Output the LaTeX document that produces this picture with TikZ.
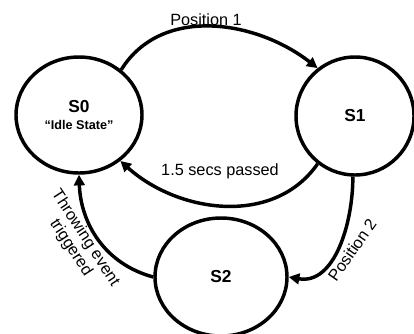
\documentclass[tikz,border=0pt]{standalone}
\usepackage{fontspec}
\setmainfont{Liberation Sans}
\usepackage{tikz}
\usetikzlibrary{arrows.meta,shapes.geometric,positioning}

\begin{document}
\begin{tikzpicture}[
        x=0.75pt, y=-0.75pt,
        state/.style={
                draw=black,
                ellipse,
                line width=2.6pt,
                inner sep=0pt,
                align=center,
                font=\bfseries\fontsize{13}{15}\selectfont
            },
        transition/.style={
                draw=black,
                line width=2.6pt,
                -{Triangle[length=8pt,width=8pt]}
            },
        translabel/.style={
                align=center,
                inner sep=1pt,
                font=\fontsize{12.2}{13}\selectfont
            }
    ]
    \useasboundingbox (0,0) rectangle (414,333);
    %states
    \node[state, minimum width=94.5pt, minimum height=87pt] (s0) at (79,115)
        {S0\\[-2pt]{\fontsize{9.5}{11}\selectfont “Idle State”}};
    \node[state, minimum width=88.5pt, minimum height=88.5pt] (s1) at (355,116) {S1};
    \node[state, minimum width=99pt, minimum height=88.5pt] (s2) at (221,277) {S2};
    %transitions
    \draw[transition] (s0.47) to[out=58, in=142] (s1.128);
    \draw[transition] (s1.232) to[out=-125, in=-42] (s0.312);
    \draw[transition] (s1.268) to[out=-90, in=-10] (s2.0);
    \draw[transition] (s2.180) to[out=165, in=-88] (s0.270);
    %labels
    \node[translabel] (lp1) at (206,20) {Position 1};
    \node[translabel] (lsecs) at (220,171) {1.5 secs passed};
    \node[translabel, rotate=-57] (lthrow) at (78,243) {Throwing event\\triggered};
    \node[translabel, rotate=55] (lp2) at (352,250) {Position 2};
\end{tikzpicture}
\end{document}
